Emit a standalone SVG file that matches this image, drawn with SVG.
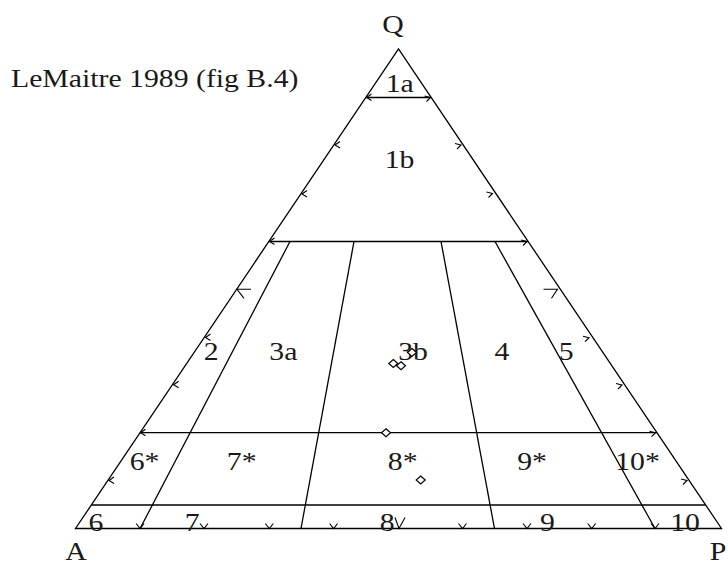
<svg xmlns="http://www.w3.org/2000/svg" xmlns:xlink="http://www.w3.org/1999/xlink" width="728" height="564" viewBox="0 0 728 564">
<style>
.ln{stroke:#000;stroke-width:1.3;fill:none;stroke-linecap:butt}
.ar{stroke:#000;stroke-width:1.1;fill:none}
.t{font-family:"Liberation Serif","Times New Roman",serif;font-size:25px;fill:#1a1a1a}
.pt{fill:#fff;stroke:#000;stroke-width:1.2}
</style>
<defs>
<path id="al" class="ar" d="M5,-3.5 L0,0 L5,3"/>
<path id="alb" class="ar" d="M14,0 L0,0 L7,9"/>
<path id="arr" class="ar" d="M-6,-1.5 L0,0 L-4,4"/>
<path id="arb" class="ar" d="M-14,0 L0,0 L-6,9"/>
<path id="av" class="ar" d="M-4,-5 L0,0 L4,-5"/>
<path id="avb" class="ar" d="M-4,-11 L0,0 L6,-11"/>
<path id="dm" class="pt" d="M0,-4 L4.5,0 L0,4 L-4.5,0 Z"/>
</defs>
<rect width="728" height="564" fill="#fff"/>
<g id="connectors">
<path class="ln" d="M75.5,528.5 L398.5,49 L721.5,528.5 Z"/>
<line class="ln" x1="366.2" y1="97.5" x2="430.8" y2="97.5"/>
<line class="ln" x1="269.3" y1="241.5" x2="527.7" y2="241.5"/>
<line class="ln" x1="140.1" y1="432.7" x2="656.9" y2="432.7"/>
<line class="ln" x1="91.7" y1="505" x2="705.3" y2="505"/>
<line class="ln" x1="290" y1="241.5" x2="140.1" y2="528.5"/>
<line class="ln" x1="354" y1="241.5" x2="301" y2="528.5"/>
<line class="ln" x1="441" y1="241.5" x2="494.5" y2="528.5"/>
<line class="ln" x1="495" y1="241.5" x2="655" y2="528.5"/>
</g>
<g id="ticks">
<use xlink:href="#al" x="109" y="480.5"/>
<use xlink:href="#al" x="140.5" y="432.7"/>
<use xlink:href="#al" x="173.6" y="384.8"/>
<use xlink:href="#al" x="205.5" y="337.5"/>
<use xlink:href="#alb" x="237" y="289.3"/>
<use xlink:href="#al" x="269.5" y="241.5"/>
<use xlink:href="#al" x="302" y="194"/>
<use xlink:href="#al" x="335" y="145"/>
<use xlink:href="#al" x="366.5" y="97.5"/>
<use xlink:href="#arr" x="687" y="480.5"/>
<use xlink:href="#arr" x="655.5" y="432.7"/>
<use xlink:href="#arr" x="622" y="385"/>
<use xlink:href="#arr" x="589" y="337.7"/>
<use xlink:href="#arb" x="557.5" y="289.3"/>
<use xlink:href="#arr" x="527" y="241.5"/>
<use xlink:href="#arr" x="492.5" y="193.5"/>
<use xlink:href="#arr" x="461" y="145"/>
<use xlink:href="#arr" x="430.5" y="97.5"/>
<use xlink:href="#av" x="140.1" y="528.5"/>
<use xlink:href="#av" x="204" y="528.5"/>
<use xlink:href="#av" x="269.3" y="528.5"/>
<use xlink:href="#av" x="333.6" y="528.5"/>
<use xlink:href="#avb" x="399" y="528.5"/>
<use xlink:href="#av" x="462.5" y="528.5"/>
<use xlink:href="#av" x="527" y="528.5"/>
<use xlink:href="#av" x="591.7" y="528.5"/>
<use xlink:href="#av" x="655" y="528.5"/>
</g>
<g id="vertex-labels">
<text class="t" text-anchor="middle" transform="translate(393,33) scale(1.19,1)">Q</text>
<text class="t" text-anchor="middle" transform="translate(76,560) scale(1.19,1)">A</text>
<text class="t" text-anchor="middle" transform="translate(718,560) scale(1.19,1)">P</text>
</g>
<g id="title">
<text class="t" transform="translate(11,87.3) scale(1.19,1)">LeMaitre 1989 (fig B.4)</text>
</g>
<g id="field-1a"><text class="t" text-anchor="middle" transform="translate(399.7,91.7) scale(1.19,1)">1a</text></g>
<g id="field-1b"><text class="t" text-anchor="middle" transform="translate(399.5,168) scale(1.19,1)">1b</text></g>
<g id="field-2"><text class="t" text-anchor="middle" transform="translate(211.3,360) scale(1.19,1)">2</text></g>
<g id="field-3a"><text class="t" text-anchor="middle" transform="translate(283.3,360) scale(1.19,1)">3a</text></g>
<g id="field-3b"><text class="t" text-anchor="middle" transform="translate(413,360) scale(1.19,1)">3b</text></g>
<g id="field-4"><text class="t" text-anchor="middle" transform="translate(502,360) scale(1.19,1)">4</text></g>
<g id="field-5"><text class="t" text-anchor="middle" transform="translate(566.3,360) scale(1.19,1)">5</text></g>
<g id="field-6s"><text class="t" text-anchor="middle" transform="translate(144.5,470) scale(1.19,1)">6*</text></g>
<g id="field-7s"><text class="t" text-anchor="middle" transform="translate(241.7,470) scale(1.19,1)">7*</text></g>
<g id="field-8s"><text class="t" text-anchor="middle" transform="translate(402.7,470) scale(1.19,1)">8*</text></g>
<g id="field-9s"><text class="t" text-anchor="middle" transform="translate(532,470) scale(1.19,1)">9*</text></g>
<g id="field-10s"><text class="t" text-anchor="middle" transform="translate(637.5,470) scale(1.19,1)">10*</text></g>
<g id="field-6"><text class="t" text-anchor="middle" transform="translate(96,531) scale(1.19,1)">6</text></g>
<g id="field-7"><text class="t" text-anchor="middle" transform="translate(192.2,531) scale(1.19,1)">7</text></g>
<g id="field-8"><text class="t" text-anchor="middle" transform="translate(387.3,531) scale(1.19,1)">8</text></g>
<g id="field-9"><text class="t" text-anchor="middle" transform="translate(547.5,531) scale(1.19,1)">9</text></g>
<g id="field-10"><text class="t" text-anchor="middle" transform="translate(685,531) scale(1.19,1)">10</text></g>
<g id="points">
<use xlink:href="#dm" x="393.3" y="363.5"/>
<use xlink:href="#dm" x="401" y="365.7"/>
<use xlink:href="#dm" x="412" y="352.5"/>
<use xlink:href="#dm" x="386" y="432.7"/>
<use xlink:href="#dm" x="420.7" y="480"/>
</g>
</svg>
